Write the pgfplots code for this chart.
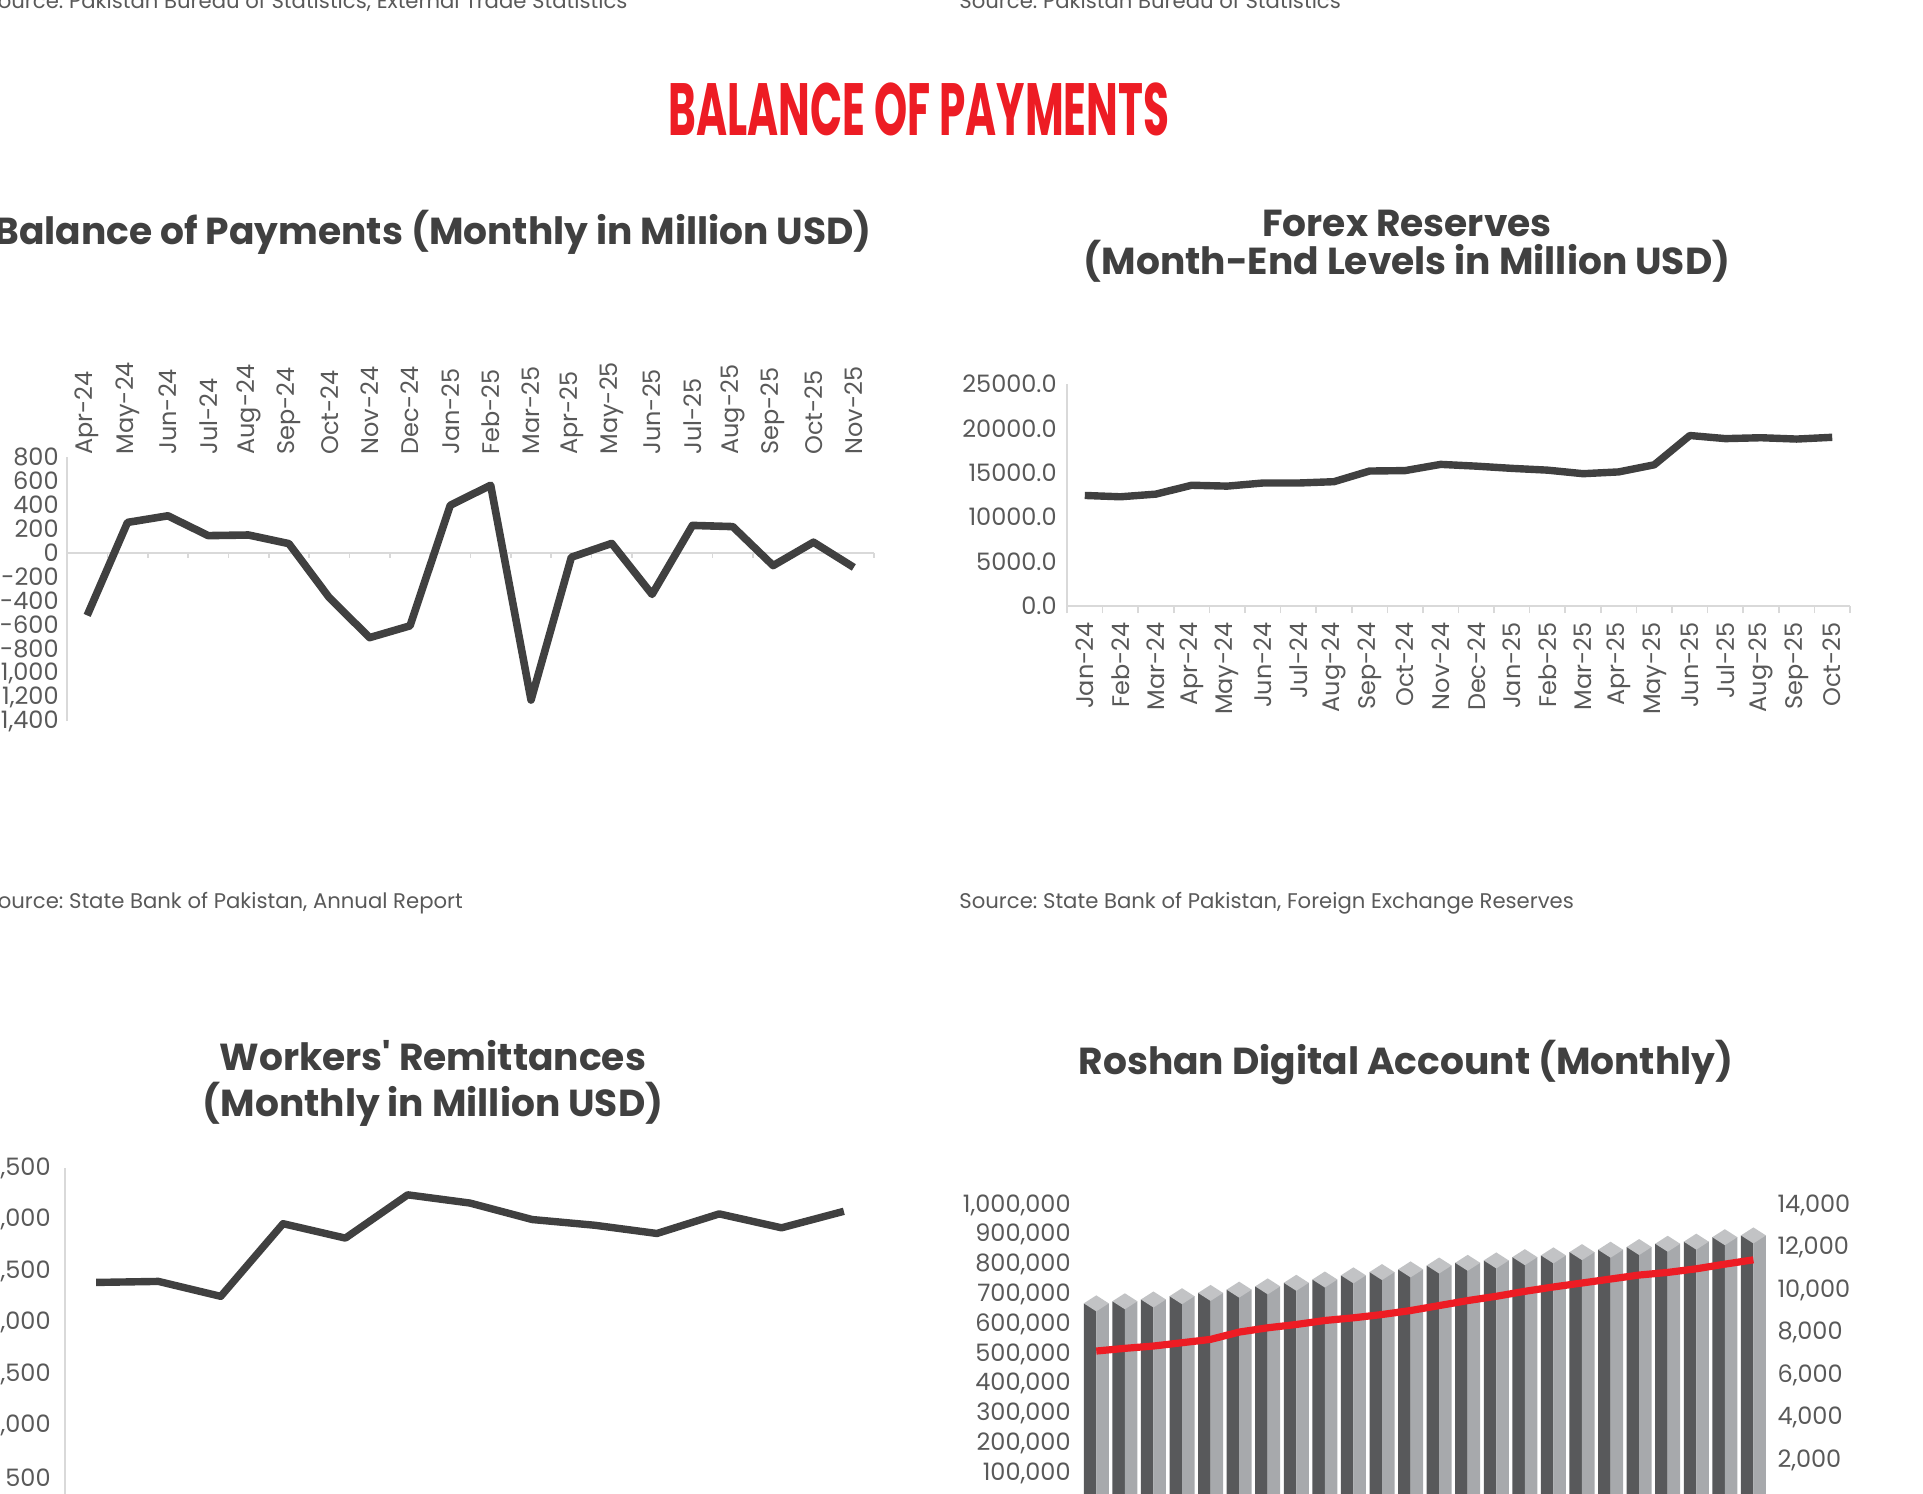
\documentclass[border=0pt]{standalone}
\usepackage{pgfplots}
\pgfplotsset{compat=1.18}
\usepackage{fontspec}
\setmainfont{Poppins}
\newfontfamily\condfont{Poppins}[FakeStretch=0.57]
\definecolor{txt}{HTML}{595959}
\definecolor{ttl}{HTML}{404040}
\definecolor{ln}{HTML}{404040}
\definecolor{axg}{HTML}{D9D9D9}
\definecolor{bopred}{HTML}{ED1C24}
\definecolor{bardark}{HTML}{58595B}
\definecolor{barlight}{HTML}{A7A9AC}
\definecolor{capc}{HTML}{C2C3C5}
\newcommand\tkf{\fontsize{12}{14}\selectfont}
\newcommand\srcf{\fontsize{10.6}{13}\selectfont}
\newcommand\ttlf{\bfseries\fontsize{18.8}{22}\selectfont}
\pgfdeclareplotmark{cap}{%
  \pgfpathmoveto{\pgfqpoint{-6.25pt}{0pt}}%
  \pgfpathlineto{\pgfqpoint{0pt}{4pt}}%
  \pgfpathlineto{\pgfqpoint{6.25pt}{0pt}}%
  \pgfpathlineto{\pgfqpoint{0pt}{-4pt}}%
  \pgfpathclose
  \pgfusepathqfill
}
\pgfplotsset{
  base/.style={scale only axis, anchor=south west, major tick length=0pt, clip=false,
    tick label style={font=\tkf, text=txt, inner sep=0pt},
    /pgf/number format/fixed,
    /pgf/number format/assume math mode=true,
    /pgf/number format/1000 sep={,},
    scaled ticks=false,
    axis line style={draw=axg, line width=0.8pt}},
}
\pgfplotstableread{
x bars line
0 670000 7140
1 677000 7266
2 683000 7375
3 694000 7530
4 705000 7687
5 716000 8030
6 727000 8232
7 739000 8388
8 750000 8575
9 764000 8700
10 775000 8855
11 784000 9042
12 797000 9276
13 806000 9510
14 814000 9712
15 825000 9945
16 831000 10150
17 842000 10336
18 850000 10523
19 859000 10710
20 870000 10833
21 877000 11004
22 892000 11222
23 898000 11425
}\rdatable
\begin{document}
\frenchspacing
\begin{tikzpicture}
\useasboundingbox (0,0) rectangle (961.5pt,-747pt);
\clip (0,0) rectangle (961.5pt,-747pt);

% texts
\node[anchor=base, inner sep=0pt, text=bopred, font=\condfont\bfseries\fontsize{37}{37}\selectfont] at (459.5pt,-67.5pt) {BALANCE OF PAYMENTS};
\node[anchor=base west, inner sep=0pt, text=txt, font=\srcf] at (-7.5pt,-4pt) {Source: Pakistan Bureau of Statistics, External Trade Statistics};
\node[anchor=base west, inner sep=0pt, text=txt, font=\srcf] at (479.5pt,-4pt) {Source: Pakistan Bureau of Statistics};
\node[anchor=base, inner sep=0pt, text=ttl, font=\ttlf] at (216.5pt,-122pt) {Balance of Payments (Monthly in Million USD)};
\node[anchor=base, inner sep=0pt, text=ttl, font=\ttlf] at (703.5pt,-118pt) {Forex Reserves};
\node[anchor=base, inner sep=0pt, text=ttl, font=\ttlf] at (703.5pt,-137pt) {(Month-End Levels in Million USD)};
\node[anchor=base west, inner sep=0pt, text=txt, font=\srcf] at (-7.5pt,-454pt) {Source: State Bank of Pakistan, Annual Report};
\node[anchor=base west, inner sep=0pt, text=txt, font=\srcf] at (479.5pt,-454pt) {Source: State Bank of Pakistan, Foreign Exchange Reserves};
\node[anchor=base, inner sep=0pt, text=ttl, font=\ttlf] at (216.5pt,-535pt) {Workers\textquotesingle\ Remittances};
\node[anchor=base, inner sep=0pt, text=ttl, font=\ttlf] at (216.5pt,-558.3pt) {(Monthly in Million USD)};
\node[anchor=base, inner sep=0pt, text=ttl, font=\ttlf] at (703pt,-537pt) {Roshan Digital Account (Monthly)};

% Chart 1: Balance of Payments
\begin{axis}[base,
  at={(33.5pt,-360.5pt)}, width=403.5pt, height=132pt,
  xmin=-0.5, xmax=19.5, ymin=-1400, ymax=800,
  axis x line*=top, axis y line*=left,
  x axis line style={draw=none},
  xtick={0,...,19},
  xticklabels={Apr-24,May-24,Jun-24,Jul-24,Aug-24,Sep-24,Oct-24,Nov-24,Dec-24,Jan-25,Feb-25,Mar-25,Apr-25,May-25,Jun-25,Jul-25,Aug-25,Sep-25,Oct-25,Nov-25},
  ytick={-1400,-1200,...,800},
  xticklabel style={rotate=90, anchor=west},
  yticklabel style={anchor=east},
  xticklabel shift=1pt, yticklabel shift=4pt,
]
\draw[axg, line width=0.8pt] (axis cs:-0.5,0) -- (axis cs:19.5,0);
\pgfplotsinvokeforeach{0.5,1.5,...,19.5}{\draw[axg, line width=0.8pt] (axis cs:#1,0) -- ([yshift=-2.5pt]axis cs:#1,0);}
\addplot[ln, line width=3.8pt, line join=round] coordinates {
(0,-520) (1,255) (2,310) (3,145) (4,150) (5,78) (6,-372) (7,-705) (8,-607) (9,398)
(10,565) (11,-1225) (12,-35) (13,80) (14,-345) (15,230) (16,220) (17,-105) (18,90) (19,-120)};
\end{axis}

% Chart 2: Forex Reserves
\begin{axis}[base,
  at={(533.5pt,-303pt)}, width=391.5pt, height=111pt,
  xmin=-0.5, xmax=21.5, ymin=0, ymax=25000,
  axis x line*=bottom, axis y line*=left,
  xtick={0,...,21},
  xticklabels={Jan-24,Feb-24,Mar-24,Apr-24,May-24,Jun-24,Jul-24,Aug-24,Sep-24,Oct-24,Nov-24,Dec-24,Jan-25,Feb-25,Mar-25,Apr-25,May-25,Jun-25,Jul-25,Aug-25,Sep-25,Oct-25},
  minor xtick={-0.5,0.5,...,21.5},
  minor tick length=3.5pt, tick align=outside,
  minor tick style={draw=axg, line width=0.8pt},
  ytick={0,5000,...,25000},
  yticklabel style={anchor=east, /pgf/number format/.cd, fixed, fixed zerofill, precision=1, 1000 sep={}},
  xticklabel style={rotate=90, anchor=east},
  xticklabel shift=8pt, yticklabel shift=5pt,
]
\addplot[ln, line width=3.7pt, line join=round] coordinates {
(0,12450) (1,12300) (2,12600) (3,13600) (4,13500) (5,13850) (6,13850) (7,14000) (8,15200) (9,15250) (10,15950)
(11,15750) (12,15500) (13,15300) (14,14900) (15,15100) (16,15900) (17,19200) (18,18850) (19,18950) (20,18800) (21,19000)};
\end{axis}

% Chart 3: Workers' Remittances
\begin{axis}[base,
  at={(32.5pt,-764.4pt)}, width=405pt, height=180.4pt,
  xmin=-0.5, xmax=12.5, ymin=0, ymax=3500,
  axis x line*=bottom, axis y line*=left,
  xtick=\empty,
  ytick={500,1000,...,3500},
  yticklabel style={anchor=east},
  yticklabel shift=7pt,
]
\addplot[ln, line width=3.7pt, line join=round] coordinates {
(0,2390) (1,2400) (2,2255) (3,2960) (4,2820) (5,3240) (6,3160) (7,3000) (8,2945) (9,2865) (10,3055) (11,2920) (12,3080)};
\end{axis}

% Chart 4: Roshan Digital Account - bars (left axis)
\begin{axis}[base,
  at={(541pt,-751.5pt)}, width=342.85pt, height=149pt,
  xmin=-0.5, xmax=23.5, ymin=0, ymax=1000000,
  axis x line=none, axis y line*=left,
  y axis line style={draw=none},
  ytick={100000,200000,...,1000000},
  yticklabel style={anchor=east},
  yticklabel shift=5.5pt,
]
\addplot[ybar, bar width=6.25pt, bar shift=-3.125pt, fill=bardark, draw=none] table[x=x, y=bars] {\rdatable};
\addplot[ybar, bar width=6.25pt, bar shift=3.125pt, fill=barlight, draw=none] table[x=x, y=bars] {\rdatable};
\addplot[only marks, mark=cap, color=capc, fill=capc] table[x=x, y=bars] {\rdatable};
\end{axis}

% Chart 4: line (right axis)
\begin{axis}[base,
  at={(541pt,-751.5pt)}, width=342.85pt, height=149pt,
  xmin=-0.5, xmax=23.5, ymin=0, ymax=14000,
  axis x line=none, axis y line*=right,
  y axis line style={draw=none},
  ytick={2000,4000,...,14000},
  yticklabel style={anchor=west},
  yticklabel shift=4.7pt,
]
\addplot[bopred, line width=3.6pt, line join=round] table[x=x, y=line] {\rdatable};
\end{axis}
\end{tikzpicture}
\end{document}
